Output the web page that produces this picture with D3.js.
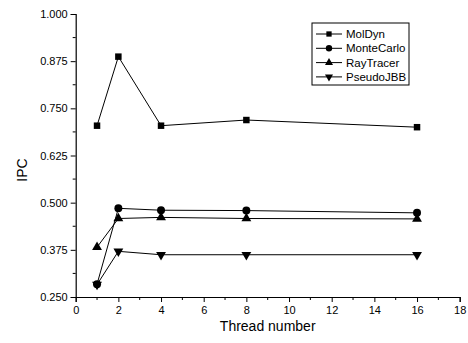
<!DOCTYPE html>
<html lang="en">
<head>
<meta charset="UTF-8">
<script src="https://d3js.org/d3.v7.min.js"></script>
<style>
  body { margin: 0; background: #fff; }
  text { font-family: "Liberation Sans", Arial, sans-serif; fill: #000; }
  .series path.line { fill: none; stroke: #000; stroke-width: 1; }
</style>
</head>
<body>
<script>
  // data
  var threads = [1, 2, 4, 8, 16];
  var names = ["MolDyn", "MonteCarlo", "RayTracer", "PseudoJBB"];
  var molDyn = [0.704, 0.887, 0.704, 0.719, 0.700];
  var monteCarlo = [0.284, 0.485, 0.480, 0.479, 0.473];
  var rayTracer = [0.382, 0.458, 0.461, 0.458, 0.457];
  var pseudoJBB = [0.283, 0.371, 0.362, 0.362, 0.362];
  var yTicks = [0.250, 0.375, 0.500, 0.625, 0.750, 0.875, 1.000];
  var xTicks = [0, 2, 4, 6, 8, 10, 12, 14, 16, 18];

  var allSeries = [molDyn, monteCarlo, rayTracer, pseudoJBB];
  var symbols = [d3.symbolSquare, d3.symbolCircle, d3.symbolTriangle, "down"];

  var W = 468, H = 343;
  var svg = d3.select("body").append("svg").attr("width", W).attr("height", H);

  var x = d3.scaleLinear().domain([0, 18]).range([75.7, 459.7]);
  var y = d3.scaleLinear().domain([0.25, 1.0]).range([297, 14]);

  // axes
  var xAxis = d3.axisBottom(x).tickValues(xTicks).tickSize(5).tickPadding(4).tickFormat(d3.format("d"));
  var yAxis = d3.axisLeft(y).tickValues(yTicks).tickSize(5).tickPadding(3).tickFormat(d3.format(".3f"));

  var gx = svg.append("g").attr("transform", "translate(0," + y(0.25) + ")").call(xAxis);
  var gy = svg.append("g").attr("transform", "translate(" + x(0) + ",0)").call(yAxis);

  // minor ticks
  gx.selectAll(".minor").data(d3.range(1, 18, 2)).enter().append("line")
    .attr("x1", function (d) { return x(d); }).attr("x2", function (d) { return x(d); })
    .attr("y1", 0).attr("y2", 3).attr("stroke", "#000");
  gy.selectAll(".minor").data(d3.range(0.3125, 1.0, 0.125)).enter().append("line")
    .attr("y1", function (d) { return y(d); }).attr("y2", function (d) { return y(d); })
    .attr("x1", 0).attr("x2", -3).attr("stroke", "#000");

  [gx, gy].forEach(function (g) {
    g.selectAll("text").style("font-size", "11px").attr("fill", "#000");
    g.select(".domain").attr("stroke", "#000").attr("stroke-width", 1.2);
    g.selectAll(".tick line").attr("stroke", "#000");
  });

  svg.append("text").attr("x", (x(0) + x(18)) / 2).attr("y", 331)
    .attr("text-anchor", "middle").style("font-size", "14px").text("Thread number");
  svg.append("text").attr("transform", "translate(27,170) rotate(-90)")
    .attr("text-anchor", "middle").style("font-size", "14px").text("IPC");

  function marker(sel, i, size) {
    if (symbols[i] === "down") {
      sel.attr("d", d3.symbol().type(d3.symbolTriangle).size(size)()).attr("data-rot", 180);
    } else {
      sel.attr("d", d3.symbol().type(symbols[i]).size(size)());
    }
  }

  var line = d3.line().x(function (d, j) { return x(threads[j]); }).y(function (d) { return y(d); });

  allSeries.forEach(function (vals, i) {
    var g = svg.append("g").attr("class", "series");
    g.append("path").attr("class", "line").attr("d", line(vals));
    g.selectAll("path.pt").data(vals).enter().append("path").attr("class", "pt")
      .each(function () { marker(d3.select(this), i, i === 1 ? 50 : 42); })
      .attr("transform", function (d, j) {
        return "translate(" + x(threads[j]) + "," + y(d) + ")" + (symbols[i] === "down" ? " rotate(180)" : "");
      })
      .attr("fill", "#000");
  });

  // legend
  var lg = svg.append("g").attr("transform", "translate(312,23)");
  lg.append("rect").attr("width", 97).attr("height", 62).attr("fill", "#fff").attr("stroke", "#000");
  names.forEach(function (n, i) {
    var ry = 11 + i * 14.3;
    lg.append("line").attr("x1", 4).attr("x2", 30).attr("y1", ry).attr("y2", ry).attr("stroke", "#000");
    lg.append("path").each(function () { marker(d3.select(this), i, i === 1 ? 32 : 28); })
      .attr("transform", "translate(17," + ry + ")" + (symbols[i] === "down" ? " rotate(180)" : ""))
      .attr("fill", "#000");
    lg.append("text").attr("x", 34).attr("y", ry + 4).style("font-size", "11.5px").text(n);
  });
</script>
</body>
</html>
